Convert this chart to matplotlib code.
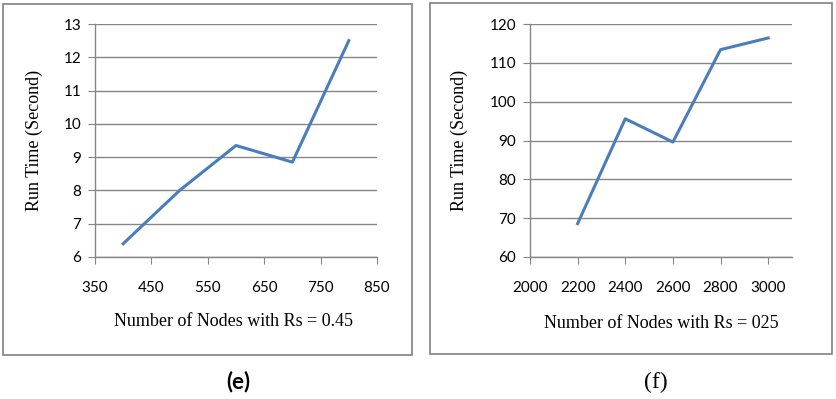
import matplotlib.pyplot as plt
from matplotlib.patches import Rectangle

# panel (e): Rs = 0.45
nodes_e = [400, 500, 600, 700, 800]
time_e = [6.4, 8.0, 9.35, 8.85, 12.5]
xticks_e = [350, 450, 550, 650, 750, 850]
yticks_e = [6, 7, 8, 9, 10, 11, 12, 13]

# panel (f): Rs = 025
nodes_f = [2200, 2400, 2600, 2800, 3000]
time_f = [68.6, 95.6, 89.6, 113.4, 116.4]
xticks_f = [2000, 2200, 2400, 2600, 2800, 3000]
yticks_f = [60, 70, 80, 90, 100, 110, 120]

W, H = 836, 399
plt.rcParams['font.family'] = 'Liberation Serif'

fig = plt.figure(figsize=(W / 100, H / 100), dpi=100)

line_color = '#4A7EBB'
grid_color = '#868686'


def px_axes(x0, y0, x1, y1):
    # pixel box (top-left origin) -> figure fraction
    return fig.add_axes([x0 / W, 1 - y1 / H, (x1 - x0) / W, (y1 - y0) / H])


def style(ax, xlim, xticks, ylim, yticks):
    ax.set_xlim(*xlim)
    ax.set_ylim(*ylim)
    ax.set_xticks(xticks)
    ax.set_yticks(yticks)
    ax.set_xticklabels([str(t) for t in xticks], family='Lato')
    ax.set_yticklabels([str(t) for t in yticks], family='Lato')
    for s in ('top', 'right'):
        ax.spines[s].set_visible(False)
    for s in ('left', 'bottom'):
        ax.spines[s].set_color(grid_color)
        ax.spines[s].set_linewidth(1.0)
    ax.yaxis.grid(True, color=grid_color, linewidth=1.0)
    ax.set_axisbelow(True)
    ax.tick_params(axis='x', direction='out', length=5, color=grid_color,
                   pad=12, labelsize=11)
    ax.tick_params(axis='y', direction='out', length=5, color=grid_color,
                   pad=5, labelsize=11)
    ax.set_ylabel('Run Time (Second)', fontsize=13)


# borders around each panel
fig.patches.append(Rectangle((3 / W, 1 - 355 / H), 409 / W, 351 / H,
                             transform=fig.transFigure, fill=False,
                             edgecolor='#808080', linewidth=1.2))
fig.patches.append(Rectangle((430 / W, 1 - 354 / H), 402 / W, 351 / H,
                             transform=fig.transFigure, fill=False,
                             edgecolor='#808080', linewidth=1.2))

ax1 = px_axes(95, 24, 377, 257)
ax1.plot(nodes_e, time_e, color=line_color, linewidth=2.2)
style(ax1, (350, 850), xticks_e, (6, 13), yticks_e)
ax1.set_xlabel('Number of Nodes with Rs = 0.45', fontsize=13)
ax1.xaxis.set_label_coords(0.49, -0.24)
ax1.yaxis.set_label_coords(-0.184, 0.5)

ax2 = px_axes(530, 24, 792, 257)
ax2.plot(nodes_f, time_f, color=line_color, linewidth=2.2)
style(ax2, (2000, 3100), xticks_f, (60, 120), yticks_f)
ax2.set_xlabel('Number of Nodes with Rs = 025', fontsize=13)
ax2.xaxis.set_label_coords(0.5, -0.249)
ax2.yaxis.set_label_coords(-0.237, 0.5)

fig.text(238 / W, 1 - 382 / H, '(e)', ha='center', va='center',
         fontsize=16, fontweight='bold', family='Lato')
fig.text(656 / W, 1 - 382 / H, '(f)', ha='center', va='center',
         fontsize=17)

fig.savefig('out.png', dpi=100)
